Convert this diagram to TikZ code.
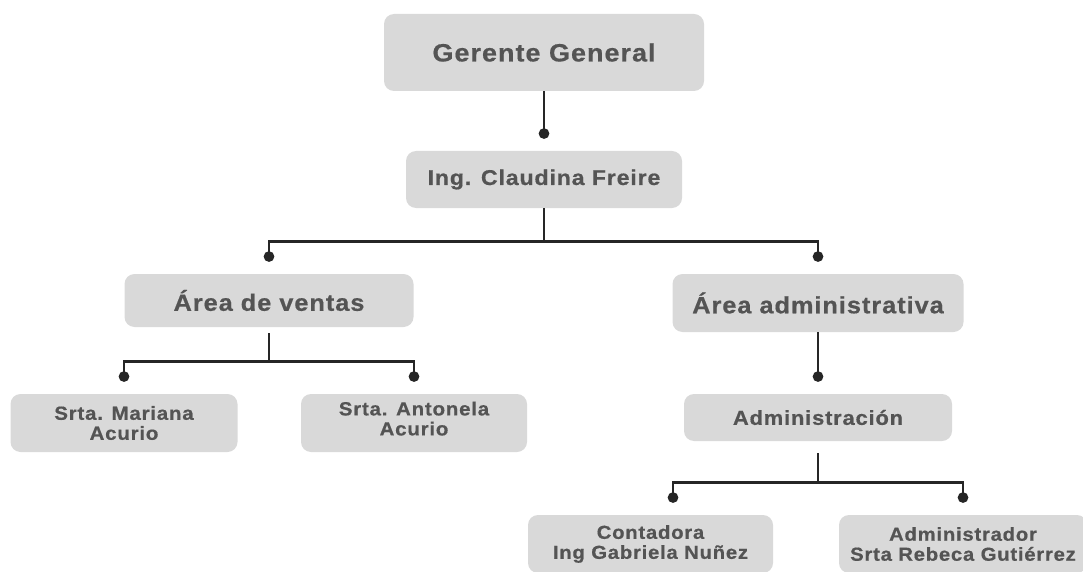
\documentclass[tikz,border=0pt]{standalone}
\usepackage{fontspec}
\setmainfont{Liberation Sans}[FakeStretch=1.08,LetterSpace=4.0,FakeBold=0.6]
\usetikzlibrary{arrows.meta}
\definecolor{cajagris}{HTML}{D9D9D9}
\definecolor{textogris}{HTML}{545454}
\definecolor{lineagris}{HTML}{262626}

\begin{document}
\begin{tikzpicture}[x=1pt,y=-1pt,
	puesto/.style={fill=cajagris,rounded corners=10pt,text=textogris,align=center,inner sep=0pt},
	enlace/.style={draw=lineagris,line width=2.7pt,-{Circle[length=10.5pt]},shorten >=12pt}]
	\useasboundingbox (0,0) rectangle (1083,572);
	\node[puesto,minimum width=320pt,minimum height=77pt,font=\bfseries\fontsize{25}{30}\selectfont] (gerente) at (544,52.5) {Gerente General};
	\node[puesto,minimum width=276pt,minimum height=57pt,font=\bfseries\fontsize{21.4}{26}\selectfont] (claudina) at (544,179.5) {Ing. Claudina Freire};
	\node[puesto,minimum width=289pt,minimum height=53pt,font=\bfseries\fontsize{23.5}{28}\selectfont] (ventas) at (269,300.5) {Área de ventas};
	\node[puesto,minimum width=291pt,minimum height=58pt,font=\bfseries\fontsize{23.5}{28}\selectfont] (admarea) at (818,303) {Área administrativa};
	\node[puesto,minimum width=227pt,minimum height=58pt,font=\bfseries\fontsize{19}{20}\selectfont] (mariana) at (124,423) {Srta. Mariana\\Acurio};
	\node[puesto,minimum width=226pt,minimum height=58pt,font=\bfseries\fontsize{19}{20}\selectfont] (antonela) at (414,423) {Srta. Antonela\\Acurio\rule[-9pt]{0pt}{0pt}};
	\node[puesto,minimum width=268pt,minimum height=47pt,font=\bfseries\fontsize{20.3}{24}\selectfont] (administracion) at (818,417.5) {Administración};
	\node[puesto,minimum width=245pt,minimum height=58pt,font=\bfseries\fontsize{18.8}{20}\selectfont] (contadora) at (650.5,544) {Contadora\\Ing Gabriela Nuñez};
	\node[puesto,minimum width=248pt,minimum height=58pt,font=\bfseries\fontsize{18.8}{20}\selectfont] (administrador) at (963,544) {Administrador\\Srta Rebeca Gutiérrez};
	\draw[enlace] (gerente.south) -- (claudina.north);
	\draw[enlace] (claudina.south) -- ++(0,33) -| (ventas.north);
	\draw[enlace] (claudina.south) -- ++(0,33) -| (admarea.north);
	\draw[enlace,shorten <=6pt] (ventas.south) -- ++(0,34) -| (mariana.north);
	\draw[enlace,shorten <=6pt] (ventas.south) -- ++(0,34) -| (antonela.north);
	\draw[enlace] (admarea.south) -- (administracion.north);
	\draw[enlace,shorten <=12pt] (administracion.south) -- ++(0,41) -| ([xshift=22.5pt]contadora.north);
	\draw[enlace,shorten <=12pt] (administracion.south) -- ++(0,41) -| (administrador.north);
\end{tikzpicture}
\end{document}
